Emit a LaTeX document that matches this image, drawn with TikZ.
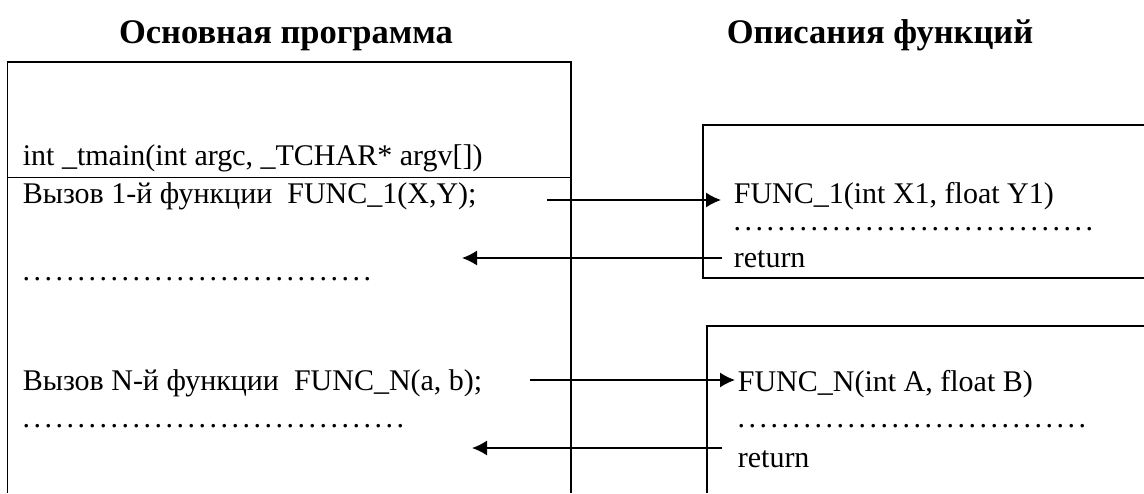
\documentclass[tikz,border=0pt]{standalone}
\usepackage{fontspec}
\setmainfont{Liberation Serif}
\usetikzlibrary{arrows.meta, math}

\newcommand\dotrow[1]{\foreach \d in {1,...,#1}{\makebox[11pt]{\smash{.}}}}

\tikzset{
  codetext/.style={anchor=base west, inner sep=0pt, font=\fontsize{30}{34}\selectfont},
  headtext/.style={anchor=base, inner sep=0pt, font=\fontsize{34.5}{40}\selectfont\bfseries},
  callarrow/.style={-{Latex[length=15pt,width=15pt]}, line width=1.5pt},
}

\begin{document}
\begin{tikzpicture}[x=1pt,y=-1pt,line width=1.7pt]
\tikzmath{
\W=1144; \H=493;
}
\useasboundingbox (0,0) rectangle (\W,\H);

% headings
\node[headtext] (hmain) at (286,43) {Основная программа};
\node[headtext] (hfunc) at (880,43) {Описания функций};

% main program box
\draw (7.5,\H) -- (7.5,62) -- (571,62) -- (571,\H);
\draw (7.5,177.5) -- (571,177.5);
\node[codetext] (tmain) at (22,165) {int \_tmain(int argc, \_TCHAR* argv[])};
\node[codetext] (call1) at (22,203) {Вызов 1-й функции~~FUNC\_1(X,Y);};
\node[codetext] (dots1) at (20,280) {\dotrow{32}};
\node[codetext] (callN) at (22,390) {Вызов N-й функции~~FUNC\_N(a, b);};
\node[codetext] (dots2) at (20,427) {\dotrow{35}};

% first function
\draw (\W,125) -- (703,125) -- (703,278) -- (\W,278);
\node[codetext] (func1) at (733,203) {FUNC\_1(int X1, float Y1)};
\node[codetext] (fdots1) at (731,230) {\dotrow{33}};
\node[codetext] (ret1) at (733,267) {return};

% N-th function
\draw (\W,326) -- (707,326) -- (707,\H);
\node[codetext] (funcN) at (737,391) {FUNC\_N(int A, float B)};
\node[codetext] (fdotsN) at (735,427) {\dotrow{32}};
\node[codetext] (retN) at (737,467) {return};

% calls and returns
\coordinate (call1out) at (547,200);
\coordinate (func1in) at (721,200);
\coordinate (ret1out) at (722,258);
\coordinate (ret1in) at (462,258);
\coordinate (callNout) at (530,380);
\coordinate (funcNin) at (735,380);
\coordinate (retNout) at (722,448);
\coordinate (retNin) at (472,448);

\draw[callarrow] (call1out) -- (func1in);
\draw[callarrow] (ret1out) -- (ret1in);
\draw[callarrow] (callNout) -- (funcNin);
\draw[callarrow] (retNout) -- (retNin);

\end{tikzpicture}
\end{document}
